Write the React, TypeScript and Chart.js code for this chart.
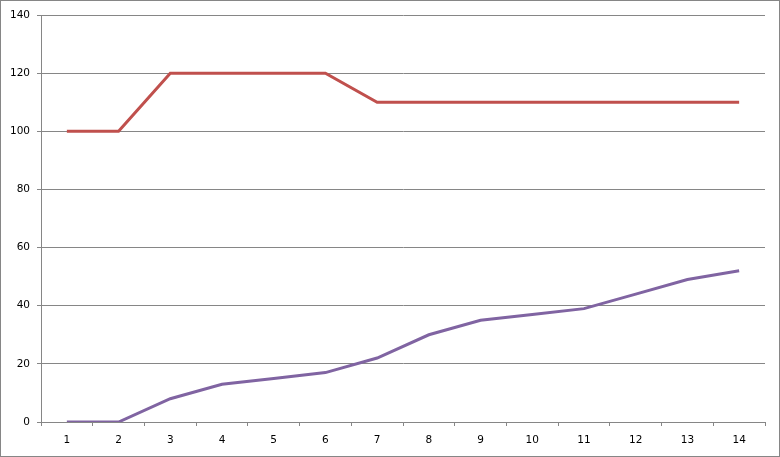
import React, { useEffect, useRef } from "react";
import { Chart, registerables } from "chart.js";

Chart.register(...registerables);

const categories = ["1", "2", "3", "4", "5", "6", "7", "8", "9", "10", "11", "12", "13", "14"];
const redSeries = [100, 100, 120, 120, 120, 120, 110, 110, 110, 110, 110, 110, 110, 110];
const purpleSeries = [0, 0, 8, 13, 15, 17, 22, 30, 35, 37, 39, 44, 49, 52];

const GRID = "#868686";
const FONT = { family: "'DejaVu Sans', Verdana, sans-serif", size: 10.5 };

const borderPlugin = {
  id: "outerBorder",
  afterDraw(chart: any) {
    const ctx = chart.ctx;
    ctx.save();
    ctx.strokeStyle = GRID;
    ctx.lineWidth = 1;
    ctx.strokeRect(0.5, 0.5, chart.width - 1, chart.height - 1);
    ctx.restore();
  },
};

export default function App() {
  const ref = useRef<HTMLCanvasElement | null>(null);

  useEffect(() => {
    document.body.style.margin = "0";
    if (!ref.current) return;
    const chart = new Chart(ref.current, {
      type: "line",
      data: {
        labels: categories,
        datasets: [
          {
            data: redSeries,
            borderColor: "#C0504D",
            borderWidth: 3,
            pointRadius: 0,
            tension: 0,
            fill: false,
          },
          {
            data: purpleSeries,
            borderColor: "#8064A2",
            borderWidth: 3,
            pointRadius: 0,
            tension: 0,
            fill: false,
          },
        ],
      },
      options: {
        animation: false,
        responsive: false,
        maintainAspectRatio: false,
        plugins: { legend: { display: false }, tooltip: { enabled: false } },
        layout: { padding: { top: 15, right: 15, bottom: 0, left: 0 } },
        scales: {
          x: {
            type: "category",
            offset: true,
            grid: {
              offset: true,
              drawOnChartArea: false,
              drawTicks: true,
              tickLength: 4,
              color: GRID,
            },
            border: { display: true, color: GRID },
            ticks: { color: "#000", font: FONT, padding: 8, maxRotation: 0, autoSkip: false },
            afterFit(scale: any) {
              scale.height = 35;
            },
          },
          y: {
            min: 0,
            max: 140,
            ticks: { stepSize: 20, color: "#000", font: FONT, padding: 7 },
            grid: { color: GRID, tickLength: 4, drawTicks: true },
            border: { display: true, color: GRID },
            afterFit(scale: any) {
              scale.width = 41;
            },
          },
        },
      },
      plugins: [borderPlugin],
    } as any);
    return () => chart.destroy();
  }, []);

  return <canvas ref={ref} width={780} height={457} style={{ display: "block" }} />;
}
